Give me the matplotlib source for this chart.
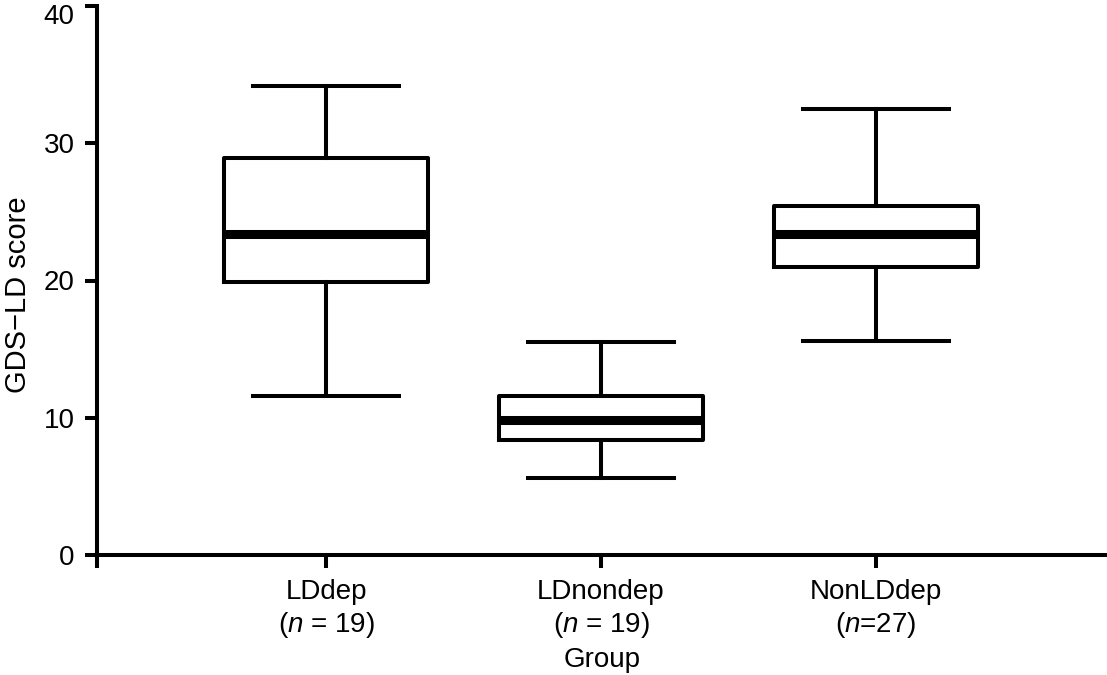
import matplotlib.pyplot as plt
import matplotlib.transforms as mtransforms

plt.rcParams["font.family"] = ["Liberation Sans", "DejaVu Sans"]
plt.rcParams["mathtext.fontset"] = "custom"
plt.rcParams["mathtext.rm"] = "Liberation Sans"
plt.rcParams["mathtext.it"] = "Liberation Sans:italic"

# box summaries (GDS-LD score)
groups = ["LDdep", "LDnondep", "NonLDdep"]
n_sizes = [19, 19, 27]
whisk_lo = [11.6, 5.6, 15.6]
q1 = [19.9, 8.4, 21.0]
medians = [23.4, 9.8, 23.4]
q3 = [28.9, 11.6, 25.45]
whisk_hi = [34.2, 15.5, 32.5]

XLIM = (0.167, 3.84)
FS = 20
LW = 2.9

fig = plt.figure(figsize=(11.07, 6.75), dpi=100)
ax = fig.add_axes([97 / 1107, 120 / 675, 1010 / 1107, 549 / 675])

stats = []
for i, g in enumerate(groups):
    stats.append(dict(label=g, whislo=whisk_lo[i], q1=q1[i], med=medians[i],
                      q3=q3[i], whishi=whisk_hi[i], fliers=[]))

ax.bxp(stats, positions=[1, 2, 3], widths=0.74, capwidths=0.53,
       showfliers=False, patch_artist=False,
       boxprops=dict(color="black", lw=LW),
       whiskerprops=dict(color="black", lw=LW),
       capprops=dict(color="black", lw=LW),
       medianprops=dict(color="black", lw=6.5, solid_capstyle="butt"))

ax.set_xlim(*XLIM)
ax.set_ylim(0, 40)
ax.set_yticks([0, 10, 20, 30, 40])

labels = [""]
for g, n in zip(groups, n_sizes):
    labels.append(f"{g}\n($n$ = {n})" if n != 27 else f"{g}\n($n$={n})")
ax.set_xticks([XLIM[0], 1, 2, 3])
ax.set_xticklabels(labels)

for side in ("top", "right"):
    ax.spines[side].set_visible(False)
for side in ("left", "bottom"):
    ax.spines[side].set_linewidth(LW)

ax.tick_params(axis="both", direction="out", length=9, width=LW,
               labelsize=FS, color="black")
ax.tick_params(axis="y", pad=7)
ax.tick_params(axis="x", pad=8.5)

# keep the top label inside the figure, as in the original
top_lab = ax.get_yticklabels()[-1]
top_lab.set_transform(top_lab.get_transform() + mtransforms.ScaledTranslation(
    0, -6 / 72, fig.dpi_scale_trans))

ax.set_xlabel("Group", fontsize=FS, labelpad=5)
ax.set_ylabel("GDS\u2212LD score", fontsize=21)
ax.yaxis.set_label_coords(-0.064, 0.475)

fig.savefig("out.png", dpi=100)
